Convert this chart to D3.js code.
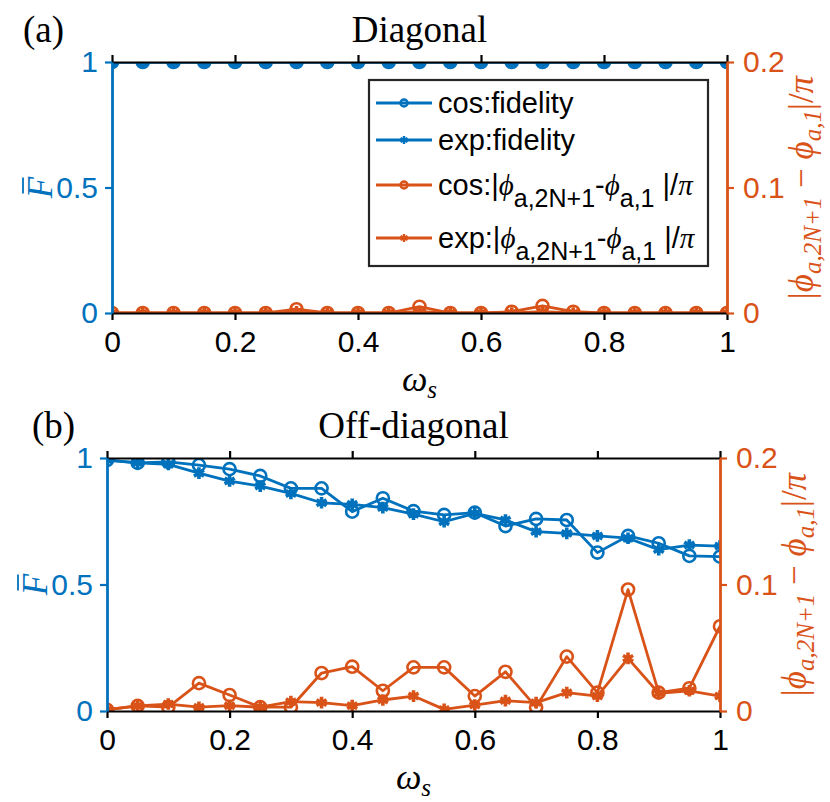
<!DOCTYPE html>
<html>
<head>
<meta charset="utf-8">
<script src="https://cdn.jsdelivr.net/npm/d3@7"></script>
<style>
body{margin:0;background:#fff;}
svg{display:block;}
</style>
</head>
<body>
<div id="chart"></div>
<script>
// omega_s grid, shared by both panels
var omega=[0,0.05,0.1,0.15,0.2,0.25,0.3,0.35,0.4,0.45,0.5,0.55,0.6,0.65,0.7,0.75,0.8,0.85,0.9,0.95,1];
var xTicks=[0,0.2,0.4,0.6,0.8,1];
var leftTicks=[0,0.5,1];
var rightTicks=[0,0.1,0.2];

// (a) diagonal
var diagCosFid=[1,1,1,1,1,1,1,1,1,1,1,1,1,1,1,1,1,1,1,1,1];
var diagExpFid=[1,1,1,1,1,1,1,1,1,1,1,1,1,1,1,1,1,1,1,1,1];
var diagCosPhase=[0,0,0,0,0,0,0.003,0,0,0,0.005,0,0,0.001,0.0056,0.001,0,0,0,0,0];
var diagExpPhase=[0,0,0,0,0,0,0.001,0,0,0,0.001,0,0,0,0.001,0,0,0,0,0,0];

// (b) off-diagonal
var offCosFid=[0.992,0.981,0.985,0.972,0.956,0.929,0.880,0.880,0.788,0.841,0.790,0.775,0.784,0.731,0.759,0.755,0.626,0.692,0.663,0.613,0.610];
var offExpFid=[0.992,0.981,0.975,0.940,0.909,0.889,0.860,0.823,0.817,0.804,0.778,0.748,0.781,0.755,0.709,0.702,0.692,0.683,0.638,0.656,0.652];
var offCosPhase=[0.001,0.004,0.003,0.022,0.0126,0.003,0.003,0.030,0.035,0.016,0.0345,0.0345,0.0118,0.031,0.003,0.043,0.0145,0.096,0.0145,0.018,0.067];
var offExpPhase=[0.001,0.004,0.0055,0.003,0.0042,0.003,0.0074,0.0066,0.0042,0.0087,0.0118,0.0013,0.0047,0.0082,0.0066,0.0145,0.0118,0.0416,0.014,0.016,0.0118];

var blue="#0072BD", orange="#D95319";
var sans="'Liberation Sans', Arial, sans-serif";
var serif="'Liberation Serif', 'Times New Roman', serif";

var svg=d3.select("#chart").append("svg").attr("width",830).attr("height",802);

function drawPanel(p){
	var x=d3.scaleLinear().domain([0,1]).range([p.x0,p.x1]);
	var yL=d3.scaleLinear().domain([0,1]).range([p.y1,p.y0]);
	var yR=d3.scaleLinear().domain([0,0.2]).range([p.y1,p.y0]);
	var g=svg.append("g");
	var clipId="clip"+p.tag;
	g.append("clipPath").attr("id",clipId).append("rect")
		.attr("x",p.x0).attr("y",p.y0).attr("width",p.x1-p.x0).attr("height",p.y1-p.y0);
	var plot=g.append("g").attr("clip-path","url(#"+clipId+")");

	function series(vals,scale,color,marker){
		var pts=omega.map(function(w,i){return [x(w),scale(vals[i])];});
		plot.append("path").attr("d",d3.line()(pts))
			.attr("fill","none").attr("stroke",color).attr("stroke-width",2.8)
			.attr("stroke-linejoin","round");
		var sym=marker=="o" ? d3.symbol().type(d3.symbolCircle).size(115)
			: d3.symbol().type(d3.symbolAsterisk).size(95);
		plot.selectAll(null).data(pts).enter().append("path")
			.attr("d",sym).attr("transform",function(d){return "translate("+d[0]+","+d[1]+")";})
			.attr("fill","none").attr("stroke",color).attr("stroke-width",marker=="o"?2.6:3.6);
	}
	series(p.cosFid,yL,blue,"o");
	series(p.expFid,yL,blue,"*");
	series(p.cosPh,yR,orange,"o");
	series(p.expPh,yR,orange,"*");

	// axes, ticks point outward
	var bottom=g.append("g").attr("transform","translate(0,"+p.y1+")")
		.call(d3.axisBottom(x).tickValues(xTicks).tickSize(7).tickSizeOuter(0).tickFormat(d3.format("")));
	var top=g.append("g").attr("transform","translate(0,"+p.y0+")")
		.call(d3.axisTop(x).tickValues(xTicks).tickSize(7).tickSizeOuter(0).tickFormat(""));
	[bottom,top].forEach(function(a){
		a.select(".domain").attr("stroke","#000").attr("stroke-width",2.2);
		a.selectAll(".tick line").attr("stroke","#000").attr("stroke-width",2.2);
	});
	bottom.selectAll(".tick text").attr("font-family",sans).attr("font-size",30)
		.attr("fill","#000").attr("dy","0.95em");
	var left=g.append("g").attr("transform","translate("+p.x0+",0)")
		.call(d3.axisLeft(yL).tickValues(leftTicks).tickSize(7).tickSizeOuter(0).tickFormat(d3.format("")));
	left.select(".domain").attr("stroke",blue).attr("stroke-width",2.8);
	left.selectAll(".tick line").attr("stroke",blue).attr("stroke-width",2.2);
	left.selectAll(".tick text").attr("font-family",sans).attr("font-size",30).attr("fill",blue).attr("x",-14);
	var right=g.append("g").attr("transform","translate("+p.x1+",0)")
		.call(d3.axisRight(yR).tickValues(rightTicks).tickSize(7).tickSizeOuter(0).tickFormat(d3.format("")));
	right.select(".domain").attr("stroke",orange).attr("stroke-width",2.8);
	right.selectAll(".tick line").attr("stroke",orange).attr("stroke-width",2.2);
	right.selectAll(".tick text").attr("font-family",sans).attr("font-size",30).attr("fill",orange).attr("x",16);

	// title and panel tag
	g.append("text").attr("x",(p.x0+p.x1)/2).attr("y",p.y0-20).attr("text-anchor","middle")
		.attr("font-family",serif).attr("font-size",37).text(p.title);
	g.append("text").attr("x",p.tagX).attr("y",p.y0-20)
		.attr("font-family",serif).attr("font-size",37).text("("+p.tag+")");

	// x label
	var xl=g.append("text").attr("x",(p.x0+p.x1)/2).attr("y",p.y1+78).attr("text-anchor","middle")
		.attr("font-family",serif).attr("font-size",36).attr("font-style","italic");
	xl.append("tspan").text("ω");
	xl.append("tspan").attr("font-size",25).attr("dy",7).text("s");

	// left label: F-bar
	var ym=(p.y0+p.y1)/2;
	var fl=g.append("g").attr("transform","translate("+(p.x0-60)+","+ym+") rotate(-90)");
	fl.append("text").attr("text-anchor","middle").attr("font-family",serif).attr("font-size",35)
		.attr("font-style","italic").attr("fill",blue).text("F");
	fl.append("line").attr("x1",-6).attr("x2",10).attr("y1",-29).attr("y2",-29)
		.attr("stroke",blue).attr("stroke-width",1.8);

	// right label
	var rl=g.append("text").attr("transform","translate("+(p.x1+86)+","+ym+") rotate(-90)")
		.attr("text-anchor","middle").attr("font-family",serif).attr("font-size",35)
		.attr("fill",orange).attr("font-style","italic");
	rl.append("tspan").attr("font-style","normal").text("|");
	rl.append("tspan").text("ϕ");
	rl.append("tspan").attr("font-size",25).attr("dy",8).text("a,2N+1");
	rl.append("tspan").attr("dy",-8).attr("font-style","normal").text(" − ");
	rl.append("tspan").text("ϕ");
	rl.append("tspan").attr("font-size",25).attr("dy",8).text("a,1");
	rl.append("tspan").attr("dy",-8).attr("font-style","normal").text("|/");
	rl.append("tspan").text("π");
	return {x:x,g:g};
}

drawPanel({tag:"a",title:"Diagonal",x0:112,x1:727,y0:62,y1:313,tagX:23,
	cosFid:diagCosFid,expFid:diagExpFid,cosPh:diagCosPhase,expPh:diagExpPhase});
drawPanel({tag:"b",title:"Off-diagonal",x0:107,x1:720,y0:458,y1:711,tagX:32,
	cosFid:offCosFid,expFid:offExpFid,cosPh:offCosPhase,expPh:offExpPhase});

// legend (panel a)
var legendItems=[
	{color:blue,marker:"o",label:"cos:fidelity"},
	{color:blue,marker:"*",label:"exp:fidelity"},
	{color:orange,marker:"o",label:"cos:"},
	{color:orange,marker:"*",label:"exp:"}
];
var lg=svg.append("g");
lg.append("rect").attr("x",369).attr("y",80).attr("width",339).attr("height",186)
	.attr("fill","#fff").attr("stroke","#262626").attr("stroke-width",2.2);
var rowY=[103,140,185,238];
legendItems.forEach(function(d,i){
	var y=rowY[i];
	lg.append("line").attr("x1",376).attr("x2",432).attr("y1",y).attr("y2",y)
		.attr("stroke",d.color).attr("stroke-width",2.8);
	var sym=d.marker=="o" ? d3.symbol().type(d3.symbolCircle).size(40)
		: d3.symbol().type(d3.symbolAsterisk).size(45);
	lg.append("path").attr("d",sym).attr("transform","translate(404,"+y+")")
		.attr("fill","none").attr("stroke",d.color).attr("stroke-width",2.4);
	var t=lg.append("text").attr("x",438).attr("y",y+10).attr("font-family",sans).attr("font-size",29);
	t.append("tspan").text(d.label);
	if(i>=2){
		t.append("tspan").text("|");
		t.append("tspan").attr("font-family",serif).attr("font-style","italic").text("ϕ");
		t.append("tspan").attr("font-size",25).attr("dy",12).text("a,2N+1");
		t.append("tspan").attr("dy",-12).text("-");
		t.append("tspan").attr("font-family",serif).attr("font-style","italic").text("ϕ");
		t.append("tspan").attr("font-size",25).attr("dy",12).text("a,1");
		t.append("tspan").attr("dy",-12).text("  |/");
		t.append("tspan").attr("font-family",serif).attr("font-style","italic").text("π");
	}
});
</script>
</body>
</html>
